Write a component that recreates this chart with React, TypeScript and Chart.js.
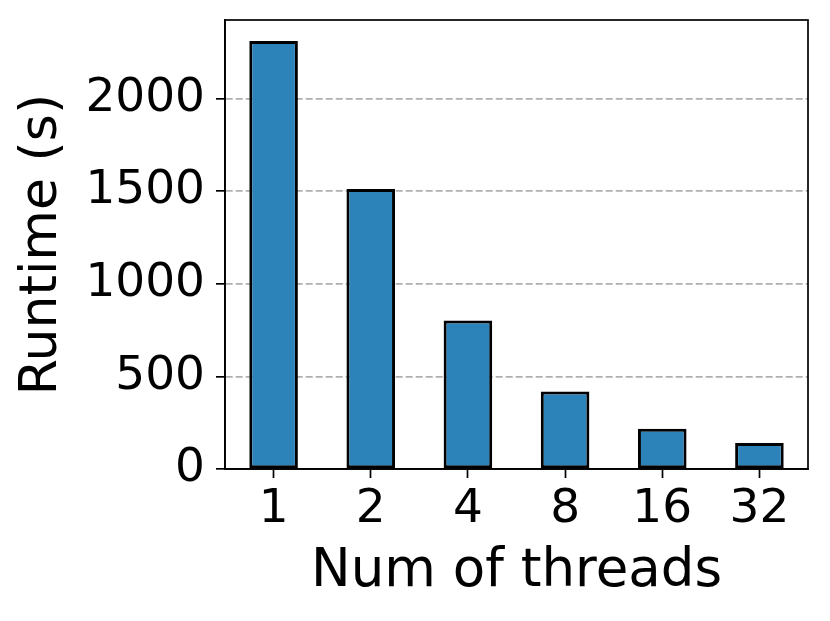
import React, { useEffect, useRef } from "react";
import { Chart, registerables } from "chart.js";

Chart.register(...registerables);

const threads = ["1", "2", "4", "8", "16", "32"];
const runtimes = [2310, 1511, 802, 418, 217, 141];
const yTicks = [0, 500, 1000, 1500, 2000];
const yMax = 2424;

const FONT = "'DejaVu Sans', sans-serif";

const boxPlugin = {
  id: "box",
  afterDraw(chart: any) {
    const { ctx, chartArea } = chart;
    ctx.save();
    ctx.strokeStyle = "#000";
    ctx.lineWidth = 1.7;
    ctx.strokeRect(chartArea.left, chartArea.top, chartArea.right - chartArea.left, chartArea.bottom - chartArea.top);
    ctx.restore();
  },
};

export default function App() {
  const ref = useRef<HTMLCanvasElement>(null);
  useEffect(() => {
    document.body.style.margin = "0";
    const chart = new Chart(ref.current!, {
      type: "bar",
      data: {
        labels: threads,
        datasets: [
          {
            data: runtimes,
            backgroundColor: "#2c83b9",
            borderColor: "#000",
            borderWidth: 3,
            borderSkipped: false,
            categoryPercentage: 1,
            barPercentage: 0.5,
          },
        ],
      },
      options: {
        animation: false,
        responsive: false,
        devicePixelRatio: 1,
        layout: { padding: { top: 20, right: 22, left: 0, bottom: 0 } },
        plugins: { legend: { display: false }, tooltip: { enabled: false } },
        scales: {
          x: {
            afterFit(scale: any) {
              scale.height = 152;
              scale.paddingLeft = 0;
              scale.paddingRight = 0;
            },
            grid: { drawOnChartArea: false, offset: false, tickLength: 9, tickWidth: 1.7, tickColor: "#000" },
            border: { color: "#000", width: 1.7 },
            ticks: { color: "#000", font: { family: FONT, size: 47 }, padding: 4, maxRotation: 0 },
            title: {
              display: true,
              text: "Num of threads",
              color: "#000",
              font: { family: FONT, size: 53 },
              padding: { top: 0, bottom: 17 },
            },
          },
          y: {
            min: 0,
            max: yMax,
            z: 1,
            afterFit(scale: any) {
              scale.width = 225;
              scale.paddingTop = 0;
              scale.paddingBottom = 0;
            },
            afterBuildTicks(scale: any) {
              scale.ticks = yTicks.map((v) => ({ value: v }));
            },
            grid: {
              color: (c: any) => (c.tick && c.tick.value === 0 ? "rgba(0,0,0,0)" : "#b0b0b0"),
              lineWidth: 1.7,
              tickLength: 9,
              tickWidth: 1.7,
              tickColor: "#000",
              tickBorderDash: [],
            },
            border: { color: "#000", width: 1.7, dash: [7, 3] },
            ticks: {
              color: "#000",
              font: { family: FONT, size: 47 },
              padding: 11,
              callback: (v: any) => String(v),
            },
            title: {
              display: true,
              text: "Runtime (s)",
              color: "#000",
              font: { family: FONT, size: 52 },
              padding: { top: 11, bottom: 0 },
            },
          },
        },
      },
      plugins: [boxPlugin],
    });
    return () => chart.destroy();
  }, []);
  return (
    <div style={{ position: "absolute", left: 0, top: 0, width: 830, height: 621, background: "#fff" }}>
      <canvas ref={ref} width={830} height={621} style={{ width: 830, height: 621 }} />
    </div>
  );
}
